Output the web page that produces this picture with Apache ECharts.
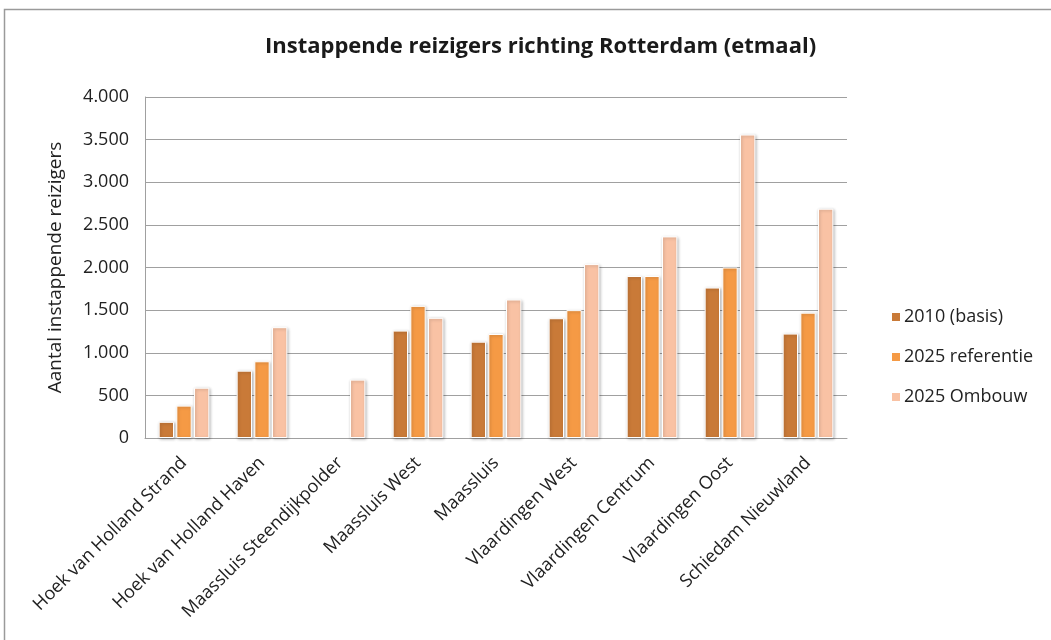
<!DOCTYPE html>
<html><head><meta charset="utf-8">
<script src="https://cdn.jsdelivr.net/npm/echarts@6/dist/echarts.min.js"></script>
<style>html,body{margin:0;padding:0;background:#fff}#c{width:1051px;height:640px}</style>
</head><body><div id="c"></div>
<script>
const categories = ["Hoek van Holland Strand","Hoek van Holland Haven","Maassluis Steendijkpolder","Maassluis West","Maassluis","Vlaardingen West","Vlaardingen Centrum","Vlaardingen Oost","Schiedam Nieuwland"];
const seriesNames = ["2010 (basis)","2025 referentie","2025 Ombouw"];
const basis2010 = [190, 790, null, 1260, 1130, 1405, 1900, 1765, 1225];
const referentie2025 = [380, 900, null, 1550, 1220, 1500, 1900, 2000, 1470];
const ombouw2025 = [590, 1300, 685, 1410, 1625, 2040, 2365, 3560, 2690];
const yTicks = [0, 500, 1000, 1500, 2000, 2500, 3000, 3500, 4000];
const colors = ["#C97A38", "#F59A45", "#F9C2A4"];
const font = "'Open Sans', 'Liberation Sans', sans-serif";

const chart = echarts.init(document.getElementById('c'));
const fmt = v => String(v).replace(/\B(?=(\d{3})+(?!\d))/g, '.');
const mk = (name, data, color) => ({
  name, type: 'bar', data,
  barCategoryGap: '35%', barGap: '15%',
  itemStyle: { color, borderColor: '#fff', borderWidth: 1,
    shadowBlur: 3, shadowColor: 'rgba(0,0,0,0.25)', shadowOffsetX: 1, shadowOffsetY: 1 }
});
chart.setOption({
  backgroundColor: '#fff',
  animation: false,
  title: { text: 'Instappende reizigers richting Rotterdam (etmaal)', left: 260, top: 31,
    textStyle: { fontFamily: font, fontWeight: 'bold', fontSize: 22, color: '#1a1a1a' } },
  color: colors,
  legend: { orient: 'vertical', left: 885, top: 303, itemGap: 22, itemWidth: 10, itemHeight: 10,
    icon: 'rect', data: seriesNames,
    textStyle: { fontFamily: font, fontSize: 18, color: '#222', padding: [0,0,0,-2] } },
  grid: { left: 145, right: 204, top: 97, bottom: 202, containLabel: false },
  xAxis: { type: 'category', data: categories,
    axisLine: { lineStyle: { color: '#A0A0A0', width: 1 } }, axisTick: { show: false },
    axisLabel: { rotate: 45, interval: 0, fontFamily: font, fontSize: 18, color: '#222', margin: 22 } },
  yAxis: { type: 'value', min: 0, max: 4000, interval: 500,
    name: 'Aantal instappende reizigers', nameLocation: 'middle', nameGap: 80, nameRotate: 90,
    nameTextStyle: { fontFamily: font, fontSize: 19, color: '#222' },
    axisLine: { show: true, lineStyle: { color: '#A0A0A0', width: 1 } }, axisTick: { show: false },
    splitLine: { lineStyle: { color: '#A0A0A0', width: 1 } },
    axisLabel: { fontFamily: font, fontSize: 18, color: '#222', margin: 16,
      formatter: v => yTicks.includes(v) ? fmt(v) : '' } },
  series: [mk(seriesNames[0], basis2010, colors[0]), mk(seriesNames[1], referentie2025, colors[1]), mk(seriesNames[2], ombouw2025, colors[2])],
  graphic: [{ type: 'rect', shape: { x: 4.5, y: 9.5, width: 1060, height: 650 }, style: { fill: 'none', stroke: '#9a9a9a', lineWidth: 1.5 }, silent: true }]
});
</script></body></html>
